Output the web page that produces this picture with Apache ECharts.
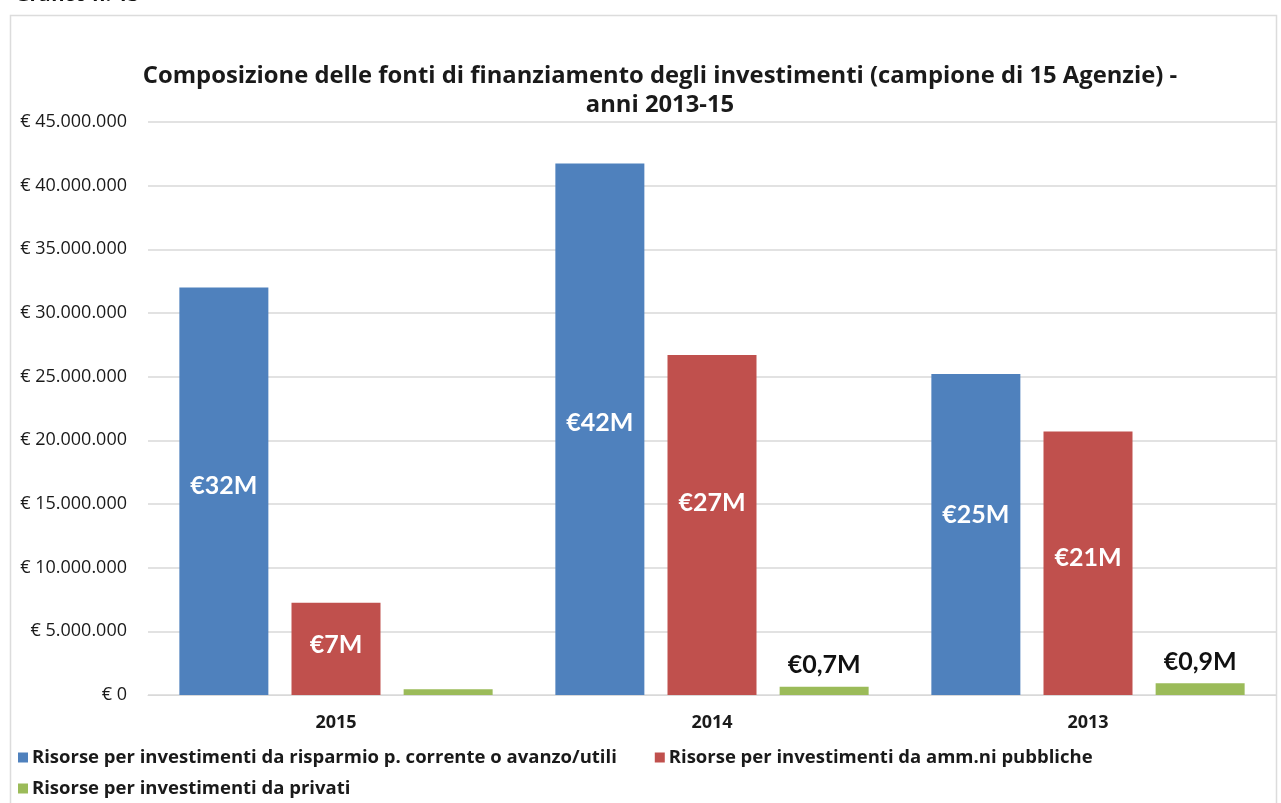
<!DOCTYPE html>
<html>
<head>
<meta charset="utf-8">
<script src="https://cdn.jsdelivr.net/npm/echarts@6/dist/echarts.min.js"></script>
<style>html,body{margin:0;padding:0;background:#fff}#c{width:1281px;height:803px}</style>
</head>
<body>
<div id="c"></div>
<script>
var categories = ['2015', '2014', '2013'];
var seriesNames = [
  'Risorse per investimenti da risparmio p. corrente o avanzo/utili',
  'Risorse per investimenti da amm.ni pubbliche',
  'Risorse per investimenti da privati'
];
var risparmio = [32000000, 41750000, 25200000];
var pubbliche = [7250000, 26700000, 20700000];
var privati = [450000, 650000, 920000];
var labelsRisparmio = ['€32M', '€42M', '€25M'];
var labelsPubbliche = ['€7M', '€27M', '€21M'];
var labelsPrivati = ['', '€0,7M', '€0,9M'];
var yTicks = { min: 0, max: 45000000, interval: 5000000 };

var FONT = '"Open Sans", Lato, sans-serif';
var LABELFONT = 'Lato, "Open Sans", sans-serif';
var labelOffsetsBlue = [[0, -5], [0, -6], [0, -20]];
var labelOffsetsRed = [[0, -4], [0, -22], [0, -5]];

function items(vals, labels, offsets) {
  return vals.map(function (v, i) {
    var it = { value: v, label: { formatter: labels[i] } };
    if (offsets) it.label.offset = offsets[i];
    return it;
  });
}
function fmtEuro(v) {
  if (v === 0) return '€ 0';
  return '€ ' + String(v).replace(/\B(?=(\d{3})+(?!\d))/g, '.');
}

var chart = echarts.init(document.getElementById('c'));
chart.setOption({
  animation: false,
  backgroundColor: '#fff',
  textStyle: { fontFamily: FONT },
  graphic: [
    { type: 'rect', shape: { x: 10.5, y: 15.5, width: 1266, height: 800 },
      style: { fill: 'none', stroke: '#dcdcdc', lineWidth: 1.5 }, silent: true },
    { type: 'text', left: 15, top: -15,
      style: { text: 'Grafico n. 13', fontFamily: FONT, fontWeight: 'bold', fontSize: 20, fill: '#111' } }
  ],
  title: {
    text: 'Composizione delle fonti di finanziamento degli investimenti (campione di 15 Agenzie) -\nanni 2013-15',
    left: 655, top: 57, textAlign: 'center',
    textStyle: { fontFamily: FONT, fontWeight: 'bold', fontSize: 23.8, lineHeight: 29, color: '#1a1a1a' }
  },
  legend: [
    { left: 13, top: 743, itemWidth: 10, itemHeight: 10, itemGap: 38, icon: 'rect',
      data: [seriesNames[0], seriesNames[1]],
      textStyle: { fontFamily: FONT, fontWeight: 'bold', fontSize: 18.5, color: '#1a1a1a', padding: [0, 0, 0, -1] } },
    { left: 13, top: 774, itemWidth: 10, itemHeight: 10, icon: 'rect',
      data: [seriesNames[2]],
      textStyle: { fontFamily: FONT, fontWeight: 'bold', fontSize: 18.5, color: '#1a1a1a', padding: [0, 0, 0, -1] } }
  ],
  grid: { left: 148, right: 5, top: 122, bottom: 108, containLabel: false },
  xAxis: {
    type: 'category', data: categories,
    axisLine: { show: true, lineStyle: { color: '#d9d9d9', width: 1 } },
    axisTick: { show: false },
    axisLabel: { margin: 19, fontFamily: FONT, fontWeight: 'bold', fontSize: 18, color: '#1a1a1a' }
  },
  yAxis: {
    type: 'value', min: yTicks.min, max: yTicks.max, interval: yTicks.interval,
    axisLine: { show: false }, axisTick: { show: false },
    splitLine: { lineStyle: { color: '#d9d9d9', width: 1.5 } },
    axisLabel: { margin: 21, fontFamily: FONT, fontSize: 18, color: '#1a1a1a', formatter: fmtEuro }
  },
  series: [
    { name: seriesNames[0], type: 'bar', barWidth: 89, barGap: '26%',
      itemStyle: { color: '#4f81bd' },
      label: { show: true, position: 'inside', color: '#fff', fontFamily: LABELFONT, fontWeight: 'bold', fontSize: 25 },
      data: items(risparmio, labelsRisparmio, labelOffsetsBlue) },
    { name: seriesNames[1], type: 'bar', barWidth: 89, barGap: '26%',
      itemStyle: { color: '#c0504d' },
      label: { show: true, position: 'inside', color: '#fff', fontFamily: LABELFONT, fontWeight: 'bold', fontSize: 25 },
      data: items(pubbliche, labelsPubbliche, labelOffsetsRed) },
    { name: seriesNames[2], type: 'bar', barWidth: 89, barGap: '26%',
      itemStyle: { color: '#9bbb59' },
      label: { show: true, position: 'top', distance: 9, color: '#111', fontFamily: LABELFONT, fontWeight: 'bold', fontSize: 25 },
      data: items(privati, labelsPrivati) }
  ]
});
</script>
</body>
</html>
